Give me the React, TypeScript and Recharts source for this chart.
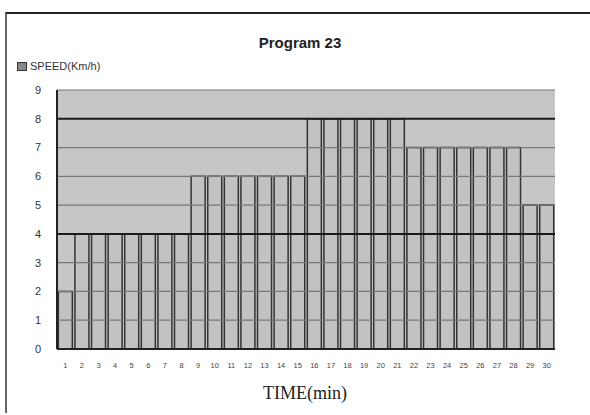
import { BarChart, Bar, XAxis, YAxis, ReferenceLine, CartesianGrid } from 'recharts'

const minutes = Array.from({ length: 30 }, (_, i) => String(i + 1))
const speed = [
  2, 4, 4, 4, 4, 4, 4, 4,
  6, 6, 6, 6, 6, 6, 6,
  8, 8, 8, 8, 8, 8,
  7, 7, 7, 7, 7, 7, 7,
  5, 5,
]
const yTicks = [0, 1, 2, 3, 4, 5, 6, 7, 8, 9]
const darkLines = [4, 8]

const data = minutes.map((m, i) => ({ min: m, speed: speed[i] }))

export default function App() {
  return (
    <div style={{ position: 'absolute', left: 0, top: 0, width: 590, height: 415, background: '#fff', fontFamily: 'Liberation Sans, Arial, sans-serif' }}>
      <div style={{ position: 'absolute', left: 5, top: 12, right: 0, bottom: 2, borderTop: '2px solid #222', borderLeft: '2px solid #666' }} />
      <div style={{ position: 'absolute', left: 0, width: 600, top: 34, textAlign: 'center', fontWeight: 'bold', fontSize: 15, color: '#222' }}>
        Program 23
      </div>
      <div style={{ position: 'absolute', left: 17, top: 60, fontSize: 11, color: '#333', display: 'flex', alignItems: 'center' }}>
        <span style={{ display: 'inline-block', width: 8, height: 7, background: '#888', border: '1px solid #333', marginRight: 3 }} />
        SPEED(Km/h)
      </div>
      <div style={{ position: 'absolute', left: 0, width: 610, top: 383, textAlign: 'center', fontFamily: 'Liberation Serif, serif', fontSize: 18, color: '#222' }}>
        TIME(min)
      </div>
      <BarChart
        width={590}
        height={415}
        data={data}
        margin={{ top: 90, right: 35, bottom: 36, left: 37 }}
        barCategoryGap="8%"
        style={{ position: 'absolute', left: 0, top: 0 }}
      >
        <CartesianGrid fill="#c6c6c6" fillOpacity={1} horizontal={false} vertical={false} />
        <XAxis
          dataKey="min"
          interval={0}
          tickLine={false}
          axisLine={{ stroke: '#222', strokeWidth: 2 }}
          tick={{ fontSize: 7.5, fill: '#444' }}
          tickMargin={8}
          height={30}
        />
        <YAxis
          domain={[0, 9]}
          ticks={yTicks}
          width={20}
          tickLine={false}
          axisLine={{ stroke: '#222', strokeWidth: 2 }}
          tick={{ fontSize: 11, fill: '#333' }}
          tickMargin={10}
        />
        <Bar dataKey="speed" fill="#c2c2c2" stroke="#333" strokeWidth={1.5} isAnimationActive={false} />
        {yTicks.filter((t) => t > 0).map((t) => (
          <ReferenceLine
            key={t}
            y={t}
            stroke={darkLines.includes(t) ? '#1a1a1a' : '#777'}
            strokeWidth={darkLines.includes(t) ? 2 : 1.2}
          />
        ))}
      </BarChart>
    </div>
  )
}
